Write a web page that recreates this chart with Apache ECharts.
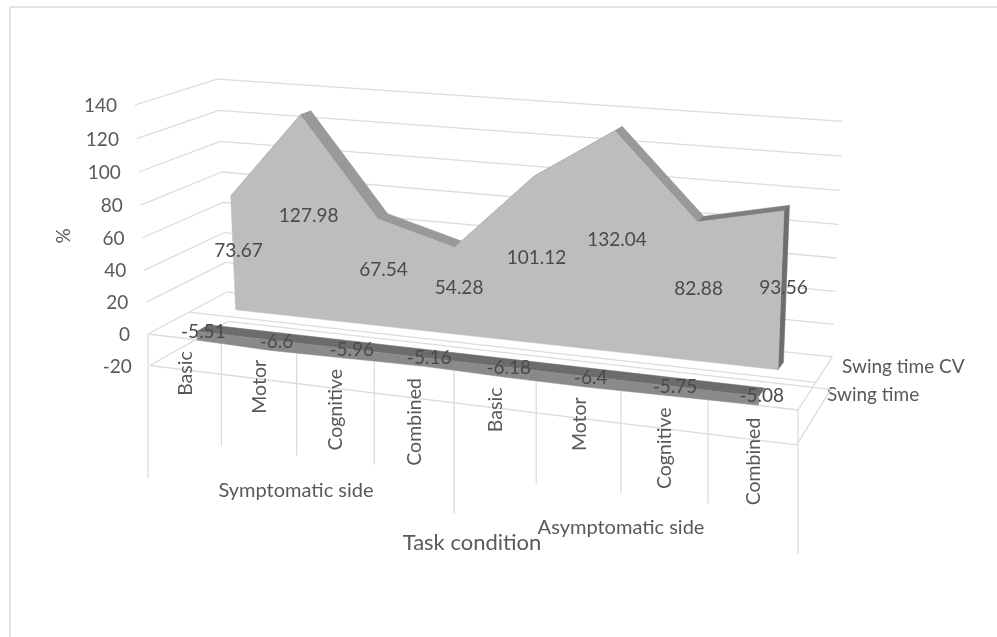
<!DOCTYPE html>
<html>
<head>
<meta charset="utf-8">
<style>html,body{margin:0;padding:0;background:#fff}#chart{width:997px;height:637px}</style>
<script src="https://cdn.jsdelivr.net/npm/echarts@6/dist/echarts.min.js"></script>
</head>
<body>
<div id="chart"></div>
<script>
// Gait asymmetry by task condition, drawn as a 3-D area chart.
const categories = ['Basic', 'Motor', 'Cognitive', 'Combined', 'Basic', 'Motor', 'Cognitive', 'Combined'];
const groups = ['Symptomatic side', 'Asymptomatic side'];
const swingTime = [-5.51, -6.6, -5.96, -5.16, -6.18, -6.4, -5.75, -5.08];
const swingTimeCV = [73.67, 127.98, 67.54, 54.28, 101.12, 132.04, 82.88, 93.56];
const valueTicks = [-20, 0, 20, 40, 60, 80, 100, 120, 140];
const seriesNames = ['Swing time', 'Swing time CV'];
const valueTitle = '%';
const categoryTitle = 'Task condition';

const FONT = 'Lato, "Open Sans", sans-serif';
const TEXT = '#595959';
const VALUE_TEXT = '#4a4a4a';
const GRID_LINE = '#dcdcdc';
const VMAX = 140;

// Perspective camera: t runs along the categories, v up the value axis
// (1 = 140), d from the front of the box to the back wall.
const origin = [148, 334];
const alongT = [798, 410], alongV = [135, 105], alongD = [227, 292];
const wT = -0.11, wV = -0.033, wD = 0.08;
const axisT = [alongT[0] * (1 + wT) - origin[0], alongT[1] * (1 + wT) - origin[1]];
const axisV = [alongV[0] * (1 + wV) - origin[0], alongV[1] * (1 + wV) - origin[1]];
const axisD = [alongD[0] * (1 + wD) - origin[0], alongD[1] * (1 + wD) - origin[1]];
function project(t, v, d) {
  const w = 1 + wT * t + wV * v + wD * d;
  return [
    (origin[0] + t * axisT[0] + v * axisV[0] + d * axisD[0]) / w,
    (origin[1] + t * axisT[1] + v * axisV[1] + d * axisD[1]) / w
  ];
}

// Depth slots of the two area series.
const bandFront = { near: 0.15, far: 0.3 };
const bandBack = { near: 0.65, far: 0.8 };

// Value on the cartesian y scale at a pixel of the hidden grid.
function valueAt(r, py) {
  return -20 + 160 * (r.y + r.height - py) / r.height;
}
// Projected point for a category centre, read through the cartesian scales.
function scaler(params, api) {
  const r = params.coordSys;
  return function (cat, value, d) {
    const p = api.coord([cat, value]);
    return project((p[0] - r.x) / r.width, valueAt(r, p[1]) / VMAX, d);
  };
}
// Projected point for a category-band boundary k = 0..8.
function boundary(params, api, k, value, d) {
  const p = api.coord([0, value]);
  return project(k / categories.length, valueAt(params.coordSys, p[1]) / VMAX, d);
}

function text(x, y, str, extra) {
  return {
    type: 'text',
    rotation: (extra && extra.rotation) || 0,
    x: x, y: y,
    style: Object.assign({
      text: str, fill: TEXT, font: '19px ' + FONT,
      align: 'center', verticalAlign: 'middle'
    }, extra && extra.style),
    originX: 0, originY: 0
  };
}
function line(a, b) {
  return {
    type: 'line',
    shape: { x1: a[0], y1: a[1], x2: b[0], y2: b[1] },
    style: { stroke: GRID_LINE, lineWidth: 1.3 }
  };
}
function polygon(points, fill) {
  return { type: 'polygon', shape: { points: points }, style: { fill: fill, stroke: fill, lineWidth: 0.5 } };
}

// Walls: one horizontal gridline per value tick, plus its tick label.
function renderWalls(params, api) {
  const v = api.value(0);
  const a = boundary(params, api, 0, v, 0);
  const b = boundary(params, api, 0, v, 1);
  const c = boundary(params, api, 8, v, 1);
  return {
    type: 'group',
    children: [
      line(a, b),
      line(b, c),
      text(a[0] - 18, a[1] + 1, String(v), { style: { align: 'right' } })
    ]
  };
}

// Floor edges, the series divider and the category tick marks.
function renderFloor(params, api) {
  const k = api.value(0);
  const children = [];
  const f0 = boundary(params, api, k, 0, 0);
  const isGroupEdge = k % 4 === 0;
  children.push(line(f0, [f0[0], f0[1] + (isGroupEdge ? 144 : 104)]));
  if (k === 0) {
    [-20, 0].forEach(function (v) {
      children.push(line(boundary(params, api, 0, v, 0), boundary(params, api, 8, v, 0)));
      children.push(line(boundary(params, api, 8, v, 0), boundary(params, api, 8, v, 1)));
    });
    children.push(line(boundary(params, api, 0, 0, 0.5), boundary(params, api, 8, 0, 0.5)));
  }
  return { type: 'group', children: children };
}

// Back series: lit front face, shaded top strips and right end.
function renderBackArea(params, api) {
  if (params.dataIndex !== 0) return null;
  const P = scaler(params, api);
  const n = swingTimeCV.length;
  const children = [];
  for (let i = 0; i < n - 1; i++) {
    const down = swingTimeCV[i + 1] < swingTimeCV[i];
    children.push(polygon([
      P(i, swingTimeCV[i], bandBack.near), P(i + 1, swingTimeCV[i + 1], bandBack.near),
      P(i + 1, swingTimeCV[i + 1], bandBack.far), P(i, swingTimeCV[i], bandBack.far)
    ], down ? '#999999' : '#7e7e7e'));
  }
  children.push(polygon([
    P(n - 1, 0, bandBack.near), P(n - 1, swingTimeCV[n - 1], bandBack.near),
    P(n - 1, swingTimeCV[n - 1], bandBack.far), P(n - 1, 0, bandBack.far)
  ], '#6e6e6e'));
  const front = [P(0, 0, bandBack.near)];
  swingTimeCV.forEach(function (v, i) { front.push(P(i, v, bandBack.near)); });
  front.push(P(n - 1, 0, bandBack.near));
  children.push(polygon(front, '#bdbdbd'));
  return { type: 'group', children: children };
}

// Front series: a thin negative band hanging below the zero plane.
function renderFrontArea(params, api) {
  if (params.dataIndex !== 0) return null;
  const P = scaler(params, api);
  const n = swingTime.length;
  const face = [P(0, 0, bandFront.near)];
  swingTime.forEach(function (v, i) { face.push(P(i, v, bandFront.near)); });
  face.push(P(n - 1, 0, bandFront.near));
  const top = [P(0, 0, bandFront.near), P(0, 0, bandFront.far), P(n - 1, 0, bandFront.far), P(n - 1, 0, bandFront.near)];
  return { type: 'group', children: [polygon(top, '#6c6c6c'), polygon(face, '#8a8a8a')] };
}

// Value labels, centred halfway up each series' height.
function renderValueLabel(depth) {
  return function (params, api) {
    const P = scaler(params, api);
    const i = api.value(0), v = api.value(1);
    const p = P(i, v / 2, depth);
    return text(p[0], p[1], String(v), { style: { fill: VALUE_TEXT } });
  };
}

// Rotated category names hanging just under the front edge.
function renderCategoryLabel(params, api) {
  const i = api.value(0);
  const p = scaler(params, api)(i, 0, 0);
  return text(p[0] + 1, p[1] + 13, categories[i], {
    rotation: Math.PI / 2,
    style: { align: 'right', verticalAlign: 'middle', font: '19.5px ' + FONT }
  });
}

const chart = echarts.init(document.getElementById('chart'));
chart.setOption({
  animation: false,
  backgroundColor: '#ffffff',
  tooltip: { show: false },
  grid: { left: 100, top: 100, width: 700, height: 300 },
  xAxis: { type: 'category', data: categories, show: false, boundaryGap: true },
  yAxis: { type: 'value', min: -20, max: 140, interval: 20, show: false },
  graphic: [
    { type: 'line', silent: true, shape: { x1: 10, y1: 7, x2: 997, y2: 7 }, style: { stroke: '#e2e2e2', lineWidth: 2 } },
    { type: 'line', silent: true, shape: { x1: 10, y1: 7, x2: 10, y2: 637 }, style: { stroke: '#e2e2e2', lineWidth: 2 } },
    text(64, 236, valueTitle, { rotation: Math.PI / 2 }),
    text(472, 543, categoryTitle, { style: { font: '22px ' + FONT } }),
    text(296, 491, groups[0], { style: { font: '20px ' + FONT } }),
    text(621, 528, groups[1], { style: { font: '20px ' + FONT } }),
    text(827, 395, seriesNames[0], { style: { align: 'left' } }),
    text(842, 367, seriesNames[1], { style: { align: 'left' } })
  ],
  series: [
    { type: 'custom', name: 'walls', z: 1, coordinateSystem: 'cartesian2d', silent: true,
      renderItem: renderWalls, data: valueTicks.map(v => [v]), encode: { y: 0 } },
    { type: 'custom', name: 'floor', z: 2, coordinateSystem: 'cartesian2d', silent: true,
      renderItem: renderFloor, data: [0, 1, 2, 3, 4, 5, 6, 7, 8].map(k => [k]), encode: { x: 0 } },
    { type: 'custom', name: seriesNames[1], z: 3, coordinateSystem: 'cartesian2d', silent: true,
      renderItem: renderBackArea, data: swingTimeCV.map((v, i) => [i, v]), encode: { x: 0, y: 1 } },
    { type: 'custom', name: seriesNames[0], z: 4, coordinateSystem: 'cartesian2d', silent: true,
      renderItem: renderFrontArea, data: swingTime.map((v, i) => [i, v]), encode: { x: 0, y: 1 } },
    { type: 'custom', name: 'labels CV', z: 6, coordinateSystem: 'cartesian2d', silent: true,
      renderItem: renderValueLabel(0.72), data: swingTimeCV.map((v, i) => [i, v]), encode: { x: 0, y: 1 } },
    { type: 'custom', name: 'labels', z: 6, coordinateSystem: 'cartesian2d', silent: true,
      renderItem: renderValueLabel(0.23), data: swingTime.map((v, i) => [i, v]), encode: { x: 0, y: 1 } },
    { type: 'custom', name: 'categories', z: 6, coordinateSystem: 'cartesian2d', silent: true,
      renderItem: renderCategoryLabel, data: categories.map((c, i) => [i]), encode: { x: 0 } }
  ]
});
</script>
</body>
</html>
